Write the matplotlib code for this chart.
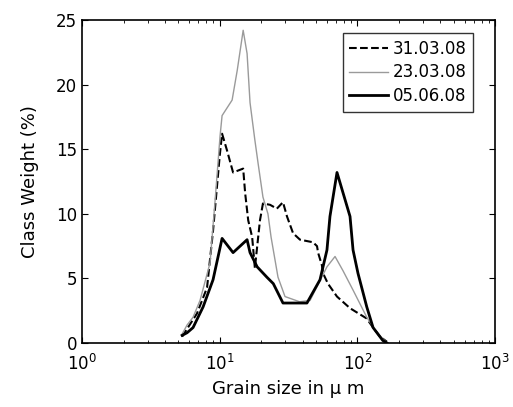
import matplotlib
matplotlib.use('Agg')
import matplotlib.pyplot as plt
from matplotlib.ticker import LogLocator, NullFormatter

plt.rcParams['font.family'] = ['DejaVu Sans']
plt.rcParams['mathtext.default'] = 'regular'

# grain size (um) and class weight (%)
x_3103 = [5.33, 6.84, 8.09, 8.94, 10.0, 10.4, 11.3, 12.5, 14.8, 15.3, 16.1, 17.2,
          18.0, 19.6, 20.6, 23.2, 26.0, 28.8, 30.8, 34.1, 38.3, 47.6, 50.9, 51.8,
          55.3, 56.3, 61.1, 71.1, 88.4, 117, 130, 146, 164]
y_3103 = [0.5, 2.3, 4.3, 8.7, 14.5, 16.2, 14.9, 13.2, 13.5, 11.6, 9.5, 8.2,
          5.8, 9.5, 10.8, 10.7, 10.4, 10.9, 9.8, 8.5, 8.0, 7.8, 7.5, 7.0,
          6.0, 5.4, 4.6, 3.6, 2.7, 1.9, 1.2, 0.5, 0.1]

x_2303 = [5.33, 5.79, 6.40, 7.19, 8.50, 9.25, 10.05, 10.4, 12.3, 13.4, 14.8, 15.8,
          16.6, 18.0, 19.0, 20.6, 22.4, 23.6, 26.5, 29.8, 38.0, 45.3, 60.1, 68.8,
          78.6, 93.0, 117, 139, 164]
y_2303 = [0.7, 1.4, 2.0, 3.3, 6.2, 11.0, 16.0, 17.6, 18.8, 21.1, 24.2, 22.4,
          18.6, 15.7, 13.9, 11.3, 10.0, 8.2, 5.1, 3.6, 3.2, 3.3, 5.9, 6.7,
          5.6, 4.1, 2.0, 0.8, 0.0]

x_0506 = [5.33, 5.79, 6.40, 7.57, 8.94, 10.4, 12.5, 15.8, 16.6, 18.7, 22.0, 24.5,
          28.8, 43.0, 53.5, 60.1, 63.2, 71.1, 88.4, 93.0, 101, 117, 130, 153, 164]
y_0506 = [0.6, 0.8, 1.2, 2.8, 4.9, 8.1, 7.0, 8.0, 7.0, 5.9, 5.1, 4.6,
          3.1, 3.1, 4.9, 7.2, 9.8, 13.2, 9.8, 7.2, 5.4, 2.8, 1.2, 0.2, 0.0]

fig = plt.figure(figsize=(5.13, 4.07), dpi=100)
ax = fig.add_axes([0.160, 0.157, 0.805, 0.794])

ax.plot(x_3103, y_3103, color='black', ls='--', lw=1.5, label='31.03.08')
ax.plot(x_2303, y_2303, color='#9a9a9a', ls='-', lw=1.0, label='23.03.08')
ax.plot(x_0506, y_0506, color='black', ls='-', lw=2.0, label='05.06.08')

ax.set_xscale('log')
ax.set_xlim(1, 1000)
ax.set_ylim(0, 25)
ax.set_yticks([0, 5, 10, 15, 20, 25])
ax.xaxis.set_minor_locator(LogLocator(base=10, subs=range(2, 10)))
ax.xaxis.set_minor_formatter(NullFormatter())
ax.tick_params(which='both', direction='in', top=True, right=True, labelsize=12)
ax.tick_params(which='major', length=4)
ax.tick_params(which='minor', length=2)
ax.tick_params(axis='x', which='major', pad=8)
for s in ax.spines.values():
    s.set_linewidth(1.2)

ax.set_xlabel('Grain size in \u03bc m', fontsize=13, labelpad=4)
ax.set_ylabel('Class Weight (%)', fontsize=13, labelpad=12)

leg = ax.legend(loc='upper right', bbox_to_anchor=(0.947, 0.960), borderaxespad=0,
                fontsize=12, frameon=True, fancybox=False, edgecolor='black',
                handlelength=2.3, handletextpad=0.3, labelspacing=0.35,
                borderpad=0.4)
leg.get_frame().set_linewidth(1.0)

plt.savefig('out.png', dpi=100)
